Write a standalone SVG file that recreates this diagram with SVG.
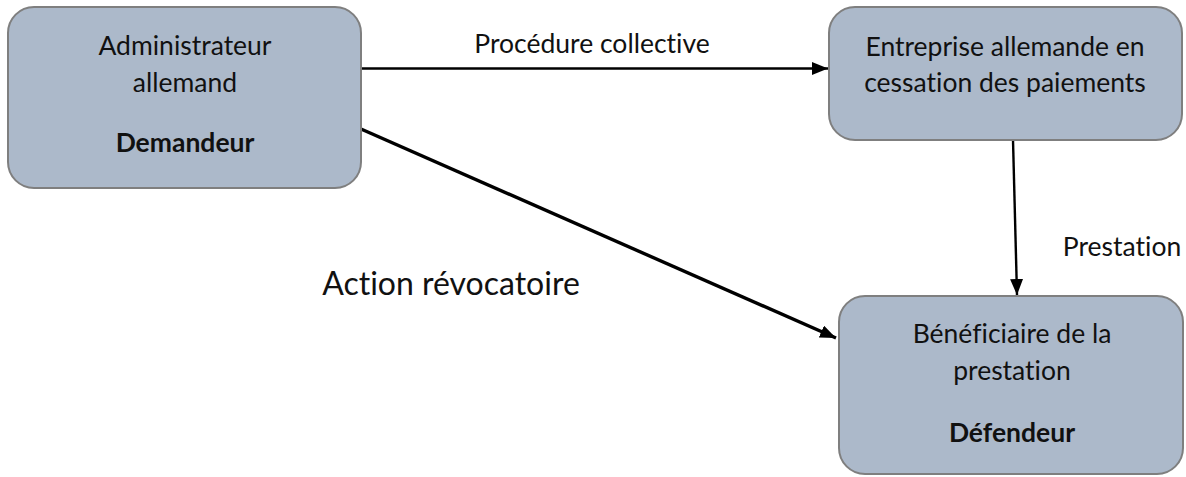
<svg xmlns="http://www.w3.org/2000/svg" width="1186" height="477" viewBox="0 0 1186 477">
<style>
.box{fill:#ACB9CA;stroke:#7F7F7F;stroke-width:2}
.t{font-family:Lato,"Open Sans","Liberation Sans",sans-serif;font-size:26.5px;fill:#111;text-anchor:middle;font-variant-ligatures:none;font-feature-settings:"liga" 0,"clig" 0}
.b{font-weight:bold}
.c{stroke:#000;fill:none}
</style>
<defs>
<marker id="ah" viewBox="0 0 10 10" refX="10" refY="5" markerWidth="16" markerHeight="13" markerUnits="userSpaceOnUse" orient="auto" preserveAspectRatio="none">
<path d="M0,0 L10,5 L0,10 z" fill="#000"/>
</marker>
</defs>
<rect width="1186" height="477" fill="#fff"/>
<g id="connectors">
<line class="c" x1="361" y1="68.5" x2="828" y2="68.5" stroke-width="2.4" marker-end="url(#ah)"/>
<line class="c" x1="1013" y1="140" x2="1017" y2="295" stroke-width="2.4" marker-end="url(#ah)"/>
<line class="c" x1="361" y1="129" x2="836" y2="338" stroke-width="3.4" marker-end="url(#ah)"/>
<text class="t" x="592" y="53">Procédure collective</text>
<text class="t" x="1122" y="256">Prestation</text>
<text class="t" x="451" y="295" style="font-size:32px">Action révocatoire</text>
</g>
<g id="node-administrateur">
<rect class="box" x="8" y="7" width="353" height="181" rx="26"/>
<text class="t" x="185" y="55">Administrateur</text>
<text class="t" x="185" y="92">allemand</text>
<text class="t b" x="185" y="152">Demandeur</text>
</g>
<g id="node-entreprise">
<rect class="box" x="829" y="7" width="353" height="133" rx="26"/>
<text class="t" x="1005" y="56">Entreprise allemande en</text>
<text class="t" x="1005" y="92">cessation des paiements</text>
</g>
<g id="node-beneficiaire">
<rect class="box" x="839" y="296" width="344" height="178" rx="26"/>
<text class="t" x="1012" y="343">Bénéficiaire de la</text>
<text class="t" x="1012" y="380">prestation</text>
<text class="t b" x="1012" y="442">Défendeur</text>
</g>
</svg>
